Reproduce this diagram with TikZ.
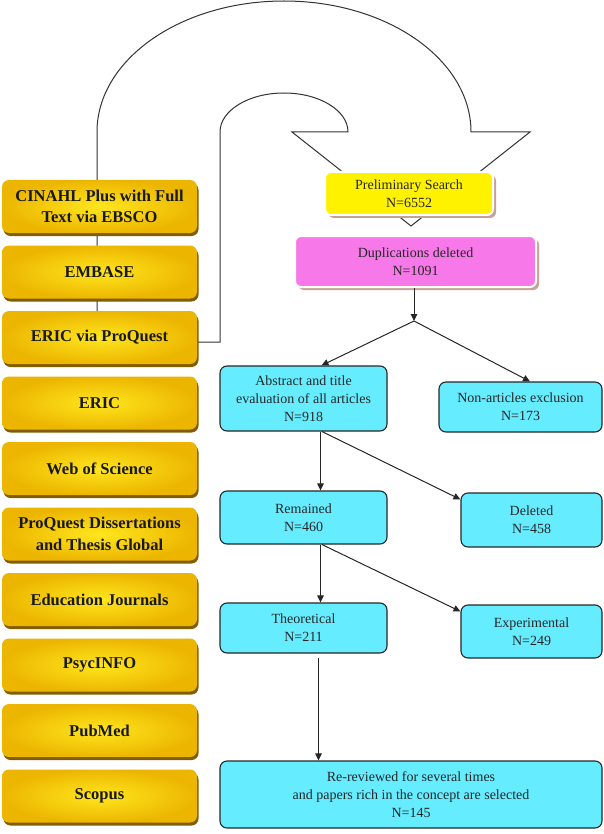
\documentclass[tikz,border=0pt]{standalone}
\usepackage{fontspec}
\setmainfont{Liberation Serif}
\usetikzlibrary{arrows.meta,calc,shadows}
\definecolor{cyanbox}{RGB}{102,236,255}
\definecolor{pinkbox}{RGB}{247,120,232}
\definecolor{goldout}{RGB}{236,182,0}
\definecolor{goldin}{RGB}{255,230,30}
\definecolor{goldshadow}{RGB}{130,92,0}
\definecolor{pinkshadow}{RGB}{200,160,150}
\begin{document}
\begin{tikzpicture}[x=1pt,y=-1pt,
  goldbox/.style={rounded corners=7pt, inner color=goldin, outer color=goldout,
    minimum width=195pt, minimum height=53pt, align=center, inner sep=0pt,
    font=\fontsize{16.5}{21.5}\selectfont\bfseries, text=black!90,
    drop shadow={fill=goldshadow, opacity=1, shadow xshift=1.5pt, shadow yshift=-3pt}},
  topbox/.style={rounded corners=6pt, draw=white, line width=2pt, align=center, inner sep=0pt,
    font=\fontsize{14}{18}\selectfont, text=black!85,
    drop shadow={fill=pinkshadow, opacity=1, shadow xshift=3pt, shadow yshift=-3pt}},
  flowbox/.style={rounded corners=7pt, draw=black!85, line width=1.1pt, fill=cyanbox,
    align=center, inner sep=0pt, font=\fontsize{14}{18}\selectfont, text=black!85},
  arr/.style={draw=black!85, line width=1pt, -{Triangle[length=7pt,width=6.5pt]}},
  uturn/.style={draw=black!80, line width=1pt, fill=white, line join=miter}]
\useasboundingbox (0,0) rectangle (604,834);
% U-turn arrow
\path[uturn] (97,342) -- (97,132)
  arc[start angle=180, end angle=0, x radius=187pt, y radius=131pt]
  -- (530,132) -- (411,226) -- (292,132) -- (348,132)
  arc[start angle=0, end angle=180, x radius=64pt, y radius=39pt]
  -- (220,342) -- cycle;
% database boxes
\node[goldbox] (g0) at (99.5,206.5) {CINAHL Plus with Full\\Text via EBSCO};
\node[goldbox] (g1) at (99.5,272) {EMBASE};
\node[goldbox] (g2) at (99.5,337.5) {ERIC via ProQuest};
\node[goldbox] (g3) at (99.5,403) {ERIC};
\node[goldbox] (g4) at (99.5,468.5) {Web of Science};
\node[goldbox] (g5) at (99.5,534) {ProQuest Dissertations\\and Thesis Global};
\node[goldbox] (g6) at (99.5,599.5) {Education Journals};
\node[goldbox] (g7) at (99.5,665) {PsycINFO};
\node[goldbox] (g8) at (99.5,730.5) {PubMed};
\node[goldbox] (g9) at (99.5,796) {Scopus};
% flow
\node[topbox, fill=yellow, minimum width=168pt, minimum height=43pt] (pre) at (409,193.5) {Preliminary Search\\N=6552};
\node[topbox, fill=pinkbox, minimum width=241pt, minimum height=51pt] (dup) at (415.5,261.5) {Duplications deleted\\N=1091};
\node[flowbox, minimum width=167pt, minimum height=65pt] (abs) at (303.5,398.5) {Abstract and title\\evaluation of all articles\\N=918};
\node[flowbox, minimum width=163pt, minimum height=50pt] (non) at (520.5,407) {Non-articles exclusion\\N=173};
\node[flowbox, minimum width=167pt, minimum height=53pt] (rem) at (303.5,517.5) {Remained\\N=460};
\node[flowbox, minimum width=141pt, minimum height=54pt] (del) at (531.5,520) {Deleted\\N=458};
\node[flowbox, minimum width=167pt, minimum height=50pt] (theo) at (303.5,628) {Theoretical\\N=211};
\node[flowbox, minimum width=141pt, minimum height=53pt] (exp) at (531.5,631.5) {Experimental\\N=249};
\node[flowbox, minimum width=382pt, minimum height=67pt] (rev) at (411,794.5) {Re-reviewed for several times\\and papers rich in the concept are selected\\N=145};
% connectors
\coordinate (split) at (414,321);
\draw[arr] (dup.south -| split) -- (split);
\draw[arr] (split) -- ($(abs.north)+(18,0)$);
\draw[arr] (split) -- ($(non.north)+(9.5,0)$);
\coordinate (a1) at ($(abs.south)+(17,0)$);
\draw[arr] (a1) -- (a1 |- rem.north);
\draw[arr] ($(abs.south)+(18.5,0)$) -- ($(del.north west)+(0,7)$);
\coordinate (r1) at ($(rem.south)+(17,0)$);
\draw[arr] (r1) -- (r1 |- theo.north);
\draw[arr] ($(rem.south)+(18.5,0)$) -- ($(exp.north west)+(0,7)$);
\coordinate (t1) at ($(theo.south)+(15,4)$);
\draw[arr] (t1) -- (t1 |- rev.north);
\end{tikzpicture}
\end{document}
